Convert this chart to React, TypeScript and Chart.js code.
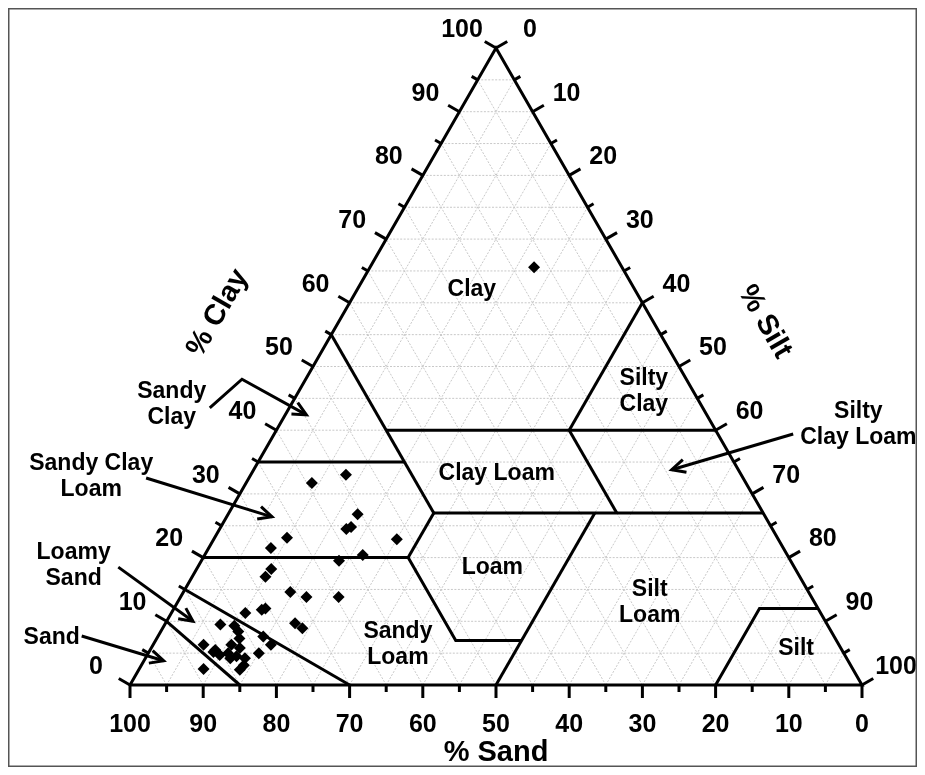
import { useEffect, useRef } from "react";
import { Chart, registerables } from "chart.js";

Chart.register(...registerables);

// ---- sample data (percent sand, percent clay) ----
const sampleSand = [12, 54, 59.3, 55.5, 58.2, 57.4, 52.1, 67, 70, 58, 61.7, 71.6, 73, 70.8, 69, 64.6, 78.6, 76.1, 75.5, 72.6, 72.0, 82.9, 81.1, 81.0, 81.4, 78.0, 77.6, 79.9, 86.8, 85.6, 85.4, 84.1, 83.0, 82.1, 83.2, 82.2, 82.9, 88.7, 86.0, 84.2, 83.8];
const sampleClay = [65.6, 33, 31.7, 26.8, 24.5, 24.8, 22.9, 23.1, 21.5, 20.4, 19.5, 18.2, 17, 14.6, 13.8, 13.8, 11.3, 11.8, 12.0, 9.7, 8.9, 9.5, 9.3, 8.4, 7.3, 7.6, 6.3, 5.0, 6.3, 5.5, 4.7, 5.0, 6.3, 5.8, 4.5, 4.2, 3.1, 2.5, 5.2, 4.2, 2.4];

// ---- axes ----
const majorTicks = [0, 10, 20, 30, 40, 50, 60, 70, 80, 90, 100];
const minorTicks = [5, 15, 25, 35, 45, 55, 65, 75, 85, 95];
const gridValues = [5, 10, 15, 20, 25, 30, 35, 40, 45, 50, 55, 60, 65, 70, 75, 80, 85, 90, 95];

// ---- texture class boundaries: polylines of [sand, clay] ----
const triangleOutline = [[100, 0], [0, 0], [0, 100], [100, 0]];
const classBoundaries = [
  [[85, 0], [90, 10]],
  [[70, 0], [85, 15]],
  [[80, 20], [52, 20], [52, 7], [43, 7]],
  [[65, 35], [45, 35]],
  [[45, 55], [45, 27]],
  [[45, 27], [52, 20]],
  [[45, 40], [0, 40]],
  [[45, 27], [0, 27]],
  [[20, 40], [20, 27]],
  [[20, 40], [0, 60]],
  [[23, 27], [50, 0]],
  [[20, 0], [8, 12], [0, 12]],
];

// ---- class names (position in chart units: x across, y = clay) ----
const classNames = ["Clay", "Silty\nClay", "Clay Loam", "Loam", "Silt\nLoam", "Sandy\nLoam", "Silt", "Sandy\nClay", "Sandy Clay\nLoam", "Loamy\nSand", "Sand", "Silty\nClay Loam"];
const classX = [46.7, 70.2, 50.1, 49.5, 71.0, 36.6, 91.0, 5.7, -5.3, -7.7, -10.7, 99.5];
const classY = [62.0, 46.0, 33.1, 18.4, 12.9, 6.4, 5.7, 44.0, 32.7, 18.8, 7.5, 40.8];

// ---- pointer arrows (chart units) ----
const arrowXs = [[10.9, 15.3, 24.1], [2.2, 19.4], [-1.6, 8.6], [-6.6, 4.6], [90.6, 74.0]];
const arrowYs = [[43.5, 48.0, 42.4], [32.5, 26.4], [18.5, 10.0], [7.7, 3.8], [39.4, 33.8]];

// ---- axis titles ----
const axisTitles = ["% Clay", "% Silt", "% Sand"];
const axisTitleX = [12.0, 86.7, 50];
const axisTitleY = [58.4, 57.0, -10.7];
const axisTitleRot = [-60, 60, 0];

const toXY = (s: number, c: number) => ({ x: 100 - s - c / 2, y: c });

const FONT = "'Liberation Sans', Arial, sans-serif";

const ternaryPlugin = {
  id: "ternary",
  beforeDatasetsDraw(chart: any) {
    const ctx = chart.ctx;
    const xs = chart.scales.x;
    const ys = chart.scales.y;
    const P = (s: number, c: number) => [xs.getPixelForValue(100 - s - c / 2), ys.getPixelForValue(c)];
    ctx.save();
    ctx.strokeStyle = "#c8c8c8";
    ctx.lineWidth = 1;
    ctx.setLineDash([2, 1.5]);
    const seg = (a: number[], b: number[]) => {
      ctx.beginPath();
      ctx.moveTo(a[0], a[1]);
      ctx.lineTo(b[0], b[1]);
      ctx.stroke();
    };
    for (const v of gridValues) {
      seg(P(100 - v, v), P(0, v));
      seg(P(v, 0), P(v, 100 - v));
      seg(P(100 - v, 0), P(0, 100 - v));
    }
    ctx.restore();
  },
  afterDatasetsDraw(chart: any) {
    const ctx = chart.ctx;
    const xs = chart.scales.x;
    const ys = chart.scales.y;
    const P = (s: number, c: number) => [xs.getPixelForValue(100 - s - c / 2), ys.getPixelForValue(c)];
    const Q = (x: number, y: number) => [xs.getPixelForValue(x), ys.getPixelForValue(y)];
    ctx.save();
    ctx.strokeStyle = "#000";
    ctx.fillStyle = "#000";
    ctx.lineWidth = 3;
    ctx.lineCap = "butt";
    const tick = (p: number[], dx: number, dy: number, len: number) => {
      ctx.beginPath();
      ctx.moveTo(p[0], p[1]);
      ctx.lineTo(p[0] + dx * len, p[1] + dy * len);
      ctx.stroke();
    };
    const c30 = Math.cos(Math.PI / 6);
    const draw = (vals: number[], len: number) => {
      for (const v of vals) {
        tick(P(v, 0), 0, 1, len); // sand, bottom
        tick(P(100 - v, v), -c30, -0.5, len); // clay, left
        tick(P(0, 100 - v), c30, -0.5, len); // silt, right
      }
    };
    draw(majorTicks, 13);
    draw(minorTicks, 7);

    // tick labels
    ctx.font = `bold 25px ${FONT}`;
    ctx.textAlign = "center";
    ctx.textBaseline = "middle";
    for (const v of majorTicks) {
      const b = P(v, 0);
      ctx.fillText(String(v), b[0], b[1] + 40);
      const l = P(100 - v, v);
      ctx.fillText(String(v), l[0] - 34, l[1] - 18);
      const r = P(0, 100 - v);
      ctx.fillText(String(v), r[0] + 34, r[1] - 18);
    }

    // class names
    ctx.font = `bold 23px ${FONT}`;
    classNames.forEach((name, i) => {
      const p = Q(classX[i], classY[i]);
      const lines = name.split("\n");
      const lh = 26;
      lines.forEach((ln, j) => {
        ctx.fillText(ln, p[0], p[1] + (j - (lines.length - 1) / 2) * lh);
      });
    });

    // arrows
    ctx.lineWidth = 3;
    ctx.lineJoin = "miter";
    arrowXs.forEach((axs, i) => {
      const pts = axs.map((x, j) => Q(x, arrowYs[i][j]));
      ctx.beginPath();
      ctx.moveTo(pts[0][0], pts[0][1]);
      for (let j = 1; j < pts.length; j++) ctx.lineTo(pts[j][0], pts[j][1]);
      ctx.stroke();
      const a = pts[pts.length - 2];
      const b = pts[pts.length - 1];
      const ang = Math.atan2(b[1] - a[1], b[0] - a[0]);
      const hl = 15;
      const spread = 0.45;
      ctx.beginPath();
      ctx.moveTo(b[0] - hl * Math.cos(ang - spread), b[1] - hl * Math.sin(ang - spread));
      ctx.lineTo(b[0], b[1]);
      ctx.lineTo(b[0] - hl * Math.cos(ang + spread), b[1] - hl * Math.sin(ang + spread));
      ctx.stroke();
    });

    // axis titles
    ctx.font = `bold 29px ${FONT}`;
    axisTitles.forEach((t, i) => {
      const p = Q(axisTitleX[i], axisTitleY[i]);
      ctx.save();
      ctx.translate(p[0], p[1]);
      ctx.rotate((axisTitleRot[i] * Math.PI) / 180);
      ctx.fillText(t, 0, 0);
      ctx.restore();
    });

    // frame
    ctx.strokeStyle = "#555";
    ctx.lineWidth = 1.5;
    ctx.strokeRect(0.75, 0.75, chart.width - 1.5, chart.height - 1.5);
    ctx.restore();
  },
};

export default function App() {
  const ref = useRef<HTMLCanvasElement | null>(null);
  useEffect(() => {
    if (!ref.current) return;
    const lineDs = (poly: number[][]) => ({
      type: "scatter" as const,
      data: poly.map(([s, c]) => toXY(s, c)),
      showLine: true,
      borderColor: "#000",
      borderWidth: 3,
      pointRadius: 0,
      fill: false,
      clip: false as any,
      tension: 0,
    });
    const datasets: any[] = [
      {
        label: "Samples",
        data: sampleSand.map((s, i) => toXY(s, sampleClay[i])),
        pointStyle: "rectRot",
        pointRadius: 6,
        backgroundColor: "#000",
        borderColor: "#000",
        borderWidth: 0,
        clip: false,
      },
      lineDs(triangleOutline),
      ...classBoundaries.map(lineDs),
    ];
    const chart = new Chart(ref.current, {
      type: "scatter",
      data: { datasets },
      options: {
        animation: false,
        responsive: false,
        devicePixelRatio: 1,
        layout: { padding: { left: 122, right: 55, top: 40, bottom: 82 } },
        scales: {
          x: { type: "linear", min: 0, max: 100, display: false },
          y: { type: "linear", min: 0, max: 100, display: false },
        },
        plugins: {
          legend: { display: false },
          tooltip: { enabled: false },
          title: { display: false },
        },
      },
      plugins: [ternaryPlugin],
    });
    return () => chart.destroy();
  }, []);
  return (
    <div style={{ width: 909, height: 759, background: "#fff" }}>
      <canvas ref={ref} width={909} height={759} style={{ display: "block" }} />
    </div>
  );
}
